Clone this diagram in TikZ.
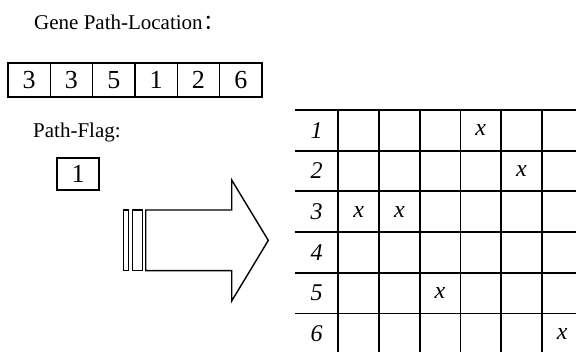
\documentclass[tikz,border=0pt]{standalone}
\usepackage{fontspec}
\setmainfont{Liberation Serif}
\newfontfamily\cjk{Noto Sans CJK SC}
\tikzset{
  lbl/.style={font=\fontsize{21}{24}\selectfont, inner sep=0pt, anchor=base west},
  cell/.style={draw, line width=1.3pt, minimum width=42.33pt, minimum height=34pt, inner sep=0pt, font=\fontsize{26}{28}\selectfont},
  shp/.style={draw, line width=1.4pt, line join=miter},
  gridline/.style={line width=1.8pt},
  hdr/.style={font=\fontsize{24}{26}\selectfont\itshape, inner sep=0pt},
  mark x/.style={font=\fontsize{24}{26}\selectfont\itshape, inner sep=0pt}
}
\begin{document}
\begin{tikzpicture}[x=1pt,y=-1pt]
\useasboundingbox (0,0) rectangle (576,352);
\clip (0,0) rectangle (576,352);
\fill[white] (0,0) rectangle (576,352);
% title
\node[lbl] (title) at (34,30) {Gene Path-Location\kern1pt{\cjk ：}};
% gene array
\foreach \v [count=\i] in {3,3,5,1,2,6}{
  \node[cell] (c\i) at ({8+42.33*(\i-0.5)},80) {\v};
}
% path flag
\node[lbl] (flaglbl) at (33,138) {Path-Flag:};
\node[cell, minimum width=42pt, minimum height=32pt] (flag) at (78,174) {1};
% big arrow
\draw[shp] (123.3,210) rectangle (128.7,270.7);
\draw[shp] (132.3,210) rectangle (142.3,270.7);
\draw[shp] (145.7,210) -- (231.7,210) -- (231.7,180) -- (268.3,240.4)
  -- (231.7,301) -- (231.7,270.7) -- (145.7,270.7) -- cycle;
% grid
\foreach \k in {0,...,6}{
  \draw[gridline] (295,{110+40.7*\k}) -- (600,{110+40.7*\k});
}
\foreach \j in {0,...,6}{
  \draw[gridline] ({338.3+40.7*\j},110) -- ({338.3+40.7*\j},380);
}
\foreach \k in {1,...,6}{
  \node[hdr] (r\k) at (316.7,{110+40.7*(\k-0.5)}) {\k};
}
% marks: (row, column)
\foreach \r/\c [count=\n] in {3/1,3/2,5/3,1/4,2/5,6/6}{
  \node[mark x] (x\n) at ({338.3+40.7*(\c-0.5)},{110+40.7*(\r-0.5)}) {x};
}
\end{tikzpicture}
\end{document}
